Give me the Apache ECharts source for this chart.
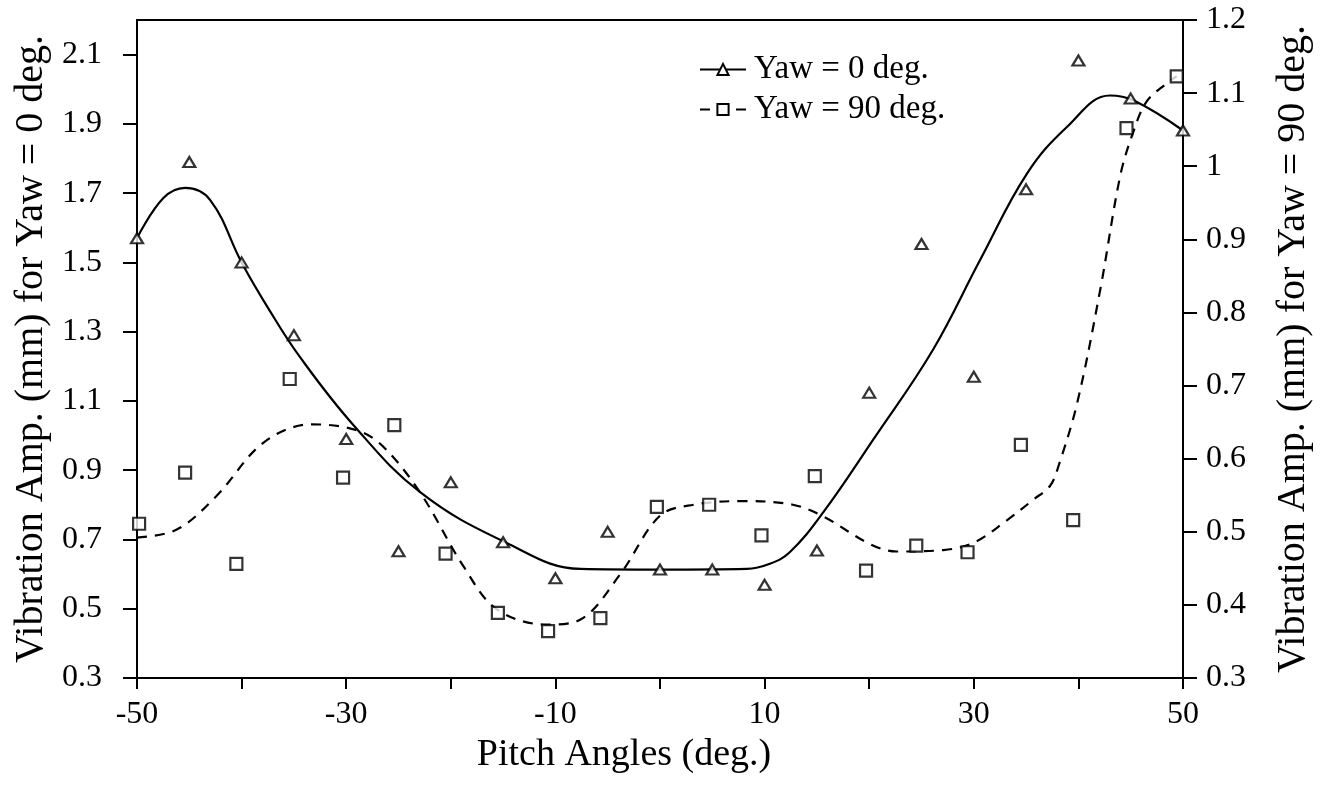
<!DOCTYPE html>
<html>
<head>
<meta charset="utf-8">
<script src="https://cdn.jsdelivr.net/npm/echarts@6/dist/echarts.min.js"></script>
<style>
  html, body { margin: 0; padding: 0; background: #fff; }
  #chart { width: 1326px; height: 806px; }
</style>
</head>
<body>
<div id="chart"></div>
<script>
// measured points, Yaw = 0 deg. (left axis)
var pitchYaw0 = [-50, -45, -40, -35, -30, -25, -20, -15, -10, -5, 0, 5, 10, 15, 20, 25, 30, 35, 40, 45, 50];
var ampYaw0 = [1.57, 1.79, 1.50, 1.29, 0.99, 0.666, 0.865, 0.692, 0.588, 0.722, 0.613, 0.613, 0.569, 0.668, 1.124, 1.553, 1.17, 1.711, 2.083, 1.973, 1.881];

// measured points, Yaw = 90 deg. (right axis)
var pitchYaw90 = [-49.8, -45.4, -40.5, -35.4, -30.3, -25.4, -20.5, -15.5, -10.7, -5.7, -0.3, 4.7, 9.7, 14.8, 19.7, 24.5, 29.4, 34.5, 39.5, 44.6, 49.4];
var ampYaw90 = [0.511, 0.581, 0.456, 0.709, 0.574, 0.646, 0.470, 0.389, 0.364, 0.382, 0.534, 0.537, 0.495, 0.576, 0.447, 0.481, 0.472, 0.619, 0.516, 1.052, 1.123];

// fitted curves
var fitPitch0 = [-50, -47.5, -45.4, -43, -40, -37.3, -34.5, -29.3, -22.9, -14.8, -7.6, 0, 8.3, 10.5, 12.4, 15.6, 20.4, 26.1, 30.6, 35.1, 38.9, 43, 45.25, 50];
var fitAmp0 = [1.57, 1.685, 1.715, 1.68, 1.50, 1.36, 1.23, 1.03, 0.836, 0.692, 0.615, 0.613, 0.615, 0.63, 0.663, 0.778, 0.989, 1.248, 1.507, 1.757, 1.891, 1.982, 1.968, 1.881];

var fitPitch90 = [-50, -46.2, -42.4, -37.9, -33.3, -29, -26.5, -22.9, -18.8, -15.6, -10.8, -7.6, -3.8, 0, 3.2, 8, 12.7, 15.6, 20.1, 22.6, 27.1, 30, 33.1, 35.7, 37.3, 38.1, 39.9, 42.1, 44, 45.25, 46.5, 48.4, 49.4];
var fitAmp90 = [0.492, 0.503, 0.549, 0.622, 0.647, 0.639, 0.617, 0.553, 0.453, 0.394, 0.373, 0.38, 0.442, 0.522, 0.537, 0.542, 0.537, 0.521, 0.483, 0.473, 0.475, 0.485, 0.515, 0.544, 0.563, 0.59, 0.677, 0.832, 0.987, 1.047, 1.088, 1.113, 1.123];

var xTicks = [-50, -40, -30, -20, -10, 0, 10, 20, 30, 40, 50];
var xLabels = [-50, -30, -10, 10, 30, 50];
var leftTicks = [0.3, 0.5, 0.7, 0.9, 1.1, 1.3, 1.5, 1.7, 1.9, 2.1];
var rightTicks = [0.3, 0.4, 0.5, 0.6, 0.7, 0.8, 0.9, 1, 1.1, 1.2];

function pairs(xs, ys) {
    return xs.map(function (x, i) { return [x, ys[i]]; });
}

var font = 'Liberation Serif';
var black = '#000';
var markStyle = { color: '#fff', borderColor: black, borderWidth: 2.2 };

var chart = echarts.init(document.getElementById('chart'));

var option = {
    animation: false,
    backgroundColor: '#fff',
    textStyle: { fontFamily: font, color: black },
    grid: {
        left: 137, right: 143, top: 20, bottom: 128,
        show: true, borderColor: black, borderWidth: 2
    },
    legend: {
        data: ['Yaw = 0 deg.', 'Yaw = 90 deg.'],
        orient: 'vertical',
        left: 694, top: 48,
        itemWidth: 46, itemHeight: 14, itemGap: 7,
        textStyle: { fontFamily: font, fontSize: 33, color: black, padding: [0, 0, 0, 3] }
    },
    xAxis: {
        type: 'value', min: -50, max: 50, interval: 10,
        name: 'Pitch Angles (deg.)', nameLocation: 'middle', nameGap: 58,
        nameTextStyle: { fontFamily: font, fontSize: 38, color: black, padding: [0, 72, 0, 0] },
        axisLine: { onZero: false, lineStyle: { color: black, width: 2 } },
        axisTick: { inside: false, length: 11, customValues: xTicks, lineStyle: { color: black, width: 2 } },
        axisLabel: { customValues: xLabels, fontFamily: font, fontSize: 32, color: black, margin: 21 },
        splitLine: { show: false }
    },
    yAxis: [
        {
            type: 'value', position: 'left', min: 0.3, max: 2.2, interval: 0.2,
            name: 'Vibration Amp. (mm) for Yaw = 0 deg.', nameLocation: 'middle', nameGap: 86, nameRotate: 90,
            nameTextStyle: { fontFamily: font, fontSize: 40, color: black },
            axisLine: { show: true, onZero: false, lineStyle: { color: black, width: 2 } },
            axisTick: { show: true, inside: false, length: 14, customValues: leftTicks, lineStyle: { color: black, width: 2 } },
            axisLabel: {
                customValues: leftTicks, fontFamily: font, fontSize: 32, color: black, margin: 35,
                formatter: function (v) { return v.toFixed(1); }
            },
            splitLine: { show: false }
        },
        {
            type: 'value', position: 'right', min: 0.3, max: 1.2, interval: 0.1,
            name: 'Vibration Amp. (mm) for Yaw = 90 deg.', nameLocation: 'middle', nameGap: 90, nameRotate: 90,
            nameTextStyle: { fontFamily: font, fontSize: 40, color: black },
            axisLine: { show: true, onZero: false, lineStyle: { color: black, width: 2 } },
            axisTick: { show: true, inside: false, length: 14, customValues: rightTicks, lineStyle: { color: black, width: 2 } },
            axisLabel: {
                customValues: rightTicks, fontFamily: font, fontSize: 32, color: black, margin: 23,
                formatter: function (v) { return v === 1 ? '1' : v.toFixed(1); }
            },
            splitLine: { show: false }
        }
    ],
    series: [
        {
            name: 'Yaw = 0 deg.', type: 'line', yAxisIndex: 0,
            data: pairs(fitPitch0, fitAmp0),
            smooth: 0.4, symbol: 'triangle', symbolSize: [12, 10], showSymbol: false,
            lineStyle: { color: black, width: 2.2 },
            itemStyle: markStyle,
            z: 2
        },
        {
            name: 'Yaw = 90 deg.', type: 'line', yAxisIndex: 1,
            data: pairs(fitPitch90, fitAmp90),
            smooth: 0.35, symbol: 'rect', symbolSize: 12, showSymbol: false,
            lineStyle: { color: black, width: 2.2, type: [10, 8] },
            itemStyle: markStyle,
            z: 2
        },
        {
            name: 'pts0', type: 'scatter', yAxisIndex: 0,
            data: pairs(pitchYaw0, ampYaw0),
            symbol: 'triangle', symbolSize: [12, 10], clip: false,
            itemStyle: markStyle,
            z: 3
        },
        {
            name: 'pts90', type: 'scatter', yAxisIndex: 1,
            data: pairs(pitchYaw90, ampYaw90),
            symbol: 'rect', symbolSize: 12, clip: false,
            itemStyle: markStyle,
            z: 3
        }
    ]
};

chart.setOption(option);
</script>
</body>
</html>
